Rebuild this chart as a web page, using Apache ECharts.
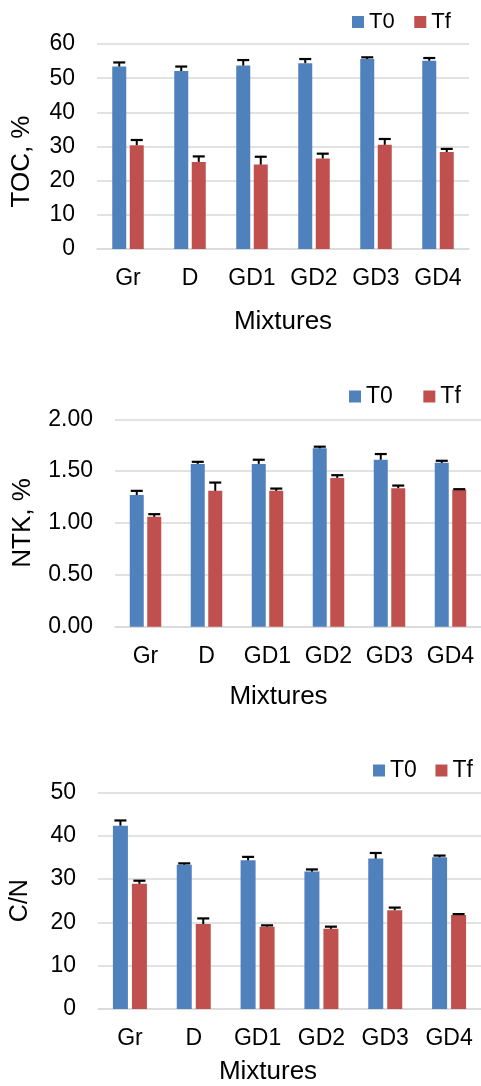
<!DOCTYPE html>
<html>
<head>
<meta charset="utf-8">
<script src="https://cdn.jsdelivr.net/npm/echarts@6/dist/echarts.min.js"></script>
<style>
  html, body { margin: 0; padding: 0; background: #fff; }
  #chart { width: 481px; height: 1086px; }
</style>
</head>
<body>
<div id="chart"></div>
<script>
// Mixtures on the category axis
const categories = ['Gr', 'D', 'GD1', 'GD2', 'GD3', 'GD4'];
const seriesNames = ['T0', 'Tf'];

// Total organic carbon, %
const tocT0 = [53.4, 52.1, 53.7, 54.4, 55.6, 55.1];
const tocT0Err = [1.2, 1.3, 1.6, 1.2, 0.5, 0.8];
const tocTf = [30.4, 25.5, 24.7, 26.5, 30.5, 28.4];
const tocTfErr = [1.5, 1.6, 2.3, 1.4, 1.7, 0.9];

// Total Kjeldahl nitrogen, %
const ntkT0 = [1.27, 1.57, 1.57, 1.72, 1.61, 1.58];
const ntkT0Err = [0.04, 0.02, 0.04, 0.016, 0.055, 0.02];
const ntkTf = [1.06, 1.31, 1.31, 1.435, 1.336, 1.32];
const ntkTfErr = [0.025, 0.08, 0.022, 0.026, 0.025, 0.006];

// Carbon / nitrogen ratio
const cnT0 = [42.3, 33.3, 34.3, 31.7, 34.7, 35.0];
const cnT0Err = [1.2, 0.3, 0.8, 0.5, 1.3, 0.4];
const cnTf = [28.9, 19.6, 19.0, 18.5, 22.8, 21.7];
const cnTfErr = [0.7, 1.3, 0.3, 0.5, 0.6, 0.2];

const FONT = '"Liberation Sans", Arial, sans-serif';
const COLORS = { T0: '#4F81BD', Tf: '#C0504D' };
const GRID_LINE = '#D9D9D9';

// panel layout and styling
const panels = [
  {
    grid: { left: 97, top: 44, width: 372, height: 205 },
    y: { min: 0, max: 60, interval: 10, decimals: 0 },
    yName: 'TOC, %', yNameGap: 62, yNamePad: [0, 30, 0, 0], yNameSize: 26,
    xNameGap: 60, xNamePad: [0, 0, 0, 0],
    barW: 14, gap: 3.5,
    legend: { left: 352, top: 11, itemGap: 19.6, fontSize: 22 },
    t0: tocT0, t0Err: tocT0Err, tf: tocTf, tfErr: tocTfErr
  },
  {
    grid: { left: 115, top: 419.3, width: 371, height: 207.4 },
    y: { min: 0, max: 2, interval: 0.5, decimals: 2 },
    yName: 'NTK, %', yNameGap: 79, yNamePad: [0, 0, 0, 0], yNameSize: 26,
    xNameGap: 57.5, xNamePad: [0, 39, 0, 0],
    barW: 14, gap: 3.5,
    legend: { left: 349, top: 385, itemGap: 30.5, fontSize: 23 },
    t0: ntkT0, t0Err: ntkT0Err, tf: ntkTf, tfErr: ntkTfErr
  },
  {
    grid: { left: 83, top: 792.3, width: 405.6, height: 218.4 },
    y: { min: 0, max: 50, interval: 10, decimals: 0 },
    yName: 'C/N', yNameGap: 65, yNamePad: [0, 0, 0, 0], yNameSize: 25,
    xNameGap: 50, xNamePad: [0, 43, 0, 0],
    barW: 15, gap: 4,
    legend: { left: 373, top: 759, itemGap: 18.6, fontSize: 23 },
    t0: cnT0, t0Err: cnT0Err, tf: cnTf, tfErr: cnTfErr
  }
];

// upward error bar (stem + cap) drawn at the offset of its bar
function errorBars(gi, name, means, errs, sign, barW, gap) {
  return {
    type: 'custom',
    name: name + ' error',
    xAxisIndex: gi,
    yAxisIndex: gi,
    z: 10,
    silent: true,
    encode: { x: 0, y: [1, 2] },
    data: means.map((m, i) => [i, m, m + errs[i]]),
    renderItem: function (params, api) {
      const i = api.value(0);
      const base = api.coord([i, api.value(1)]);
      const top = api.coord([i, api.value(2)]);
      const x = base[0] + sign * (barW + gap) / 2;
      const half = 6;
      return {
        type: 'group',
        children: [
          { type: 'line', shape: { x1: x, y1: base[1], x2: x, y2: top[1] },
            style: { stroke: '#000', lineWidth: 2 } },
          { type: 'line', shape: { x1: x - half, y1: top[1], x2: x + half, y2: top[1] },
            style: { stroke: '#000', lineWidth: 2.2 } }
        ]
      };
    }
  };
}

const option = {
  animation: false,
  backgroundColor: '#fff',
  textStyle: { fontFamily: FONT, color: '#000' },
  grid: [], xAxis: [], yAxis: [], legend: [], series: []
};

panels.forEach((p, gi) => {
  option.grid.push(Object.assign({ containLabel: false }, p.grid));
  option.xAxis.push({
    type: 'category',
    gridIndex: gi,
    data: categories,
    name: 'Mixtures',
    nameLocation: 'middle',
    nameGap: p.xNameGap,
    nameTextStyle: { fontSize: 26, color: '#000', fontFamily: FONT, padding: p.xNamePad },
    axisLine: { show: true, lineStyle: { color: GRID_LINE, width: 1.5 } },
    axisTick: { show: false },
    axisLabel: { fontSize: 23, color: '#000', fontFamily: FONT, margin: 18, interval: 0 }
  });
  option.yAxis.push({
    type: 'value',
    gridIndex: gi,
    min: p.y.min, max: p.y.max, interval: p.y.interval,
    name: p.yName,
    nameLocation: 'middle',
    nameRotate: 90,
    nameGap: p.yNameGap,
    nameTextStyle: { fontSize: p.yNameSize, color: '#000', fontFamily: FONT, padding: p.yNamePad },
    axisLine: { show: false },
    axisTick: { show: false },
    splitLine: { show: true, lineStyle: { color: GRID_LINE, width: 1.5 } },
    axisLabel: {
      fontSize: 23, color: '#000', fontFamily: FONT, margin: 22,
      formatter: v => v.toFixed(p.y.decimals)
    }
  });
  option.legend.push({
    data: seriesNames,
    left: p.legend.left,
    top: p.legend.top,
    width: 160,
    orient: 'horizontal',
    icon: 'rect',
    itemWidth: 12,
    itemHeight: 12,
    itemGap: p.legend.itemGap,
    selectedMode: false,
    padding: 0,
    textStyle: { fontSize: p.legend.fontSize, color: '#000', fontFamily: FONT }
  });
  option.series.push(
    {
      type: 'bar', name: 'T0', xAxisIndex: gi, yAxisIndex: gi,
      data: p.t0, barWidth: p.barW, barGap: (p.gap / p.barW * 100) + '%',
      itemStyle: { color: COLORS.T0 }
    },
    {
      type: 'bar', name: 'Tf', xAxisIndex: gi, yAxisIndex: gi,
      data: p.tf, barWidth: p.barW, barGap: (p.gap / p.barW * 100) + '%',
      itemStyle: { color: COLORS.Tf }
    },
    errorBars(gi, 'T0', p.t0, p.t0Err, -1, p.barW, p.gap),
    errorBars(gi, 'Tf', p.tf, p.tfErr, 1, p.barW, p.gap)
  );
});

const chart = echarts.init(document.getElementById('chart'), null, { renderer: 'canvas' });
chart.setOption(option);
</script>
</body>
</html>
